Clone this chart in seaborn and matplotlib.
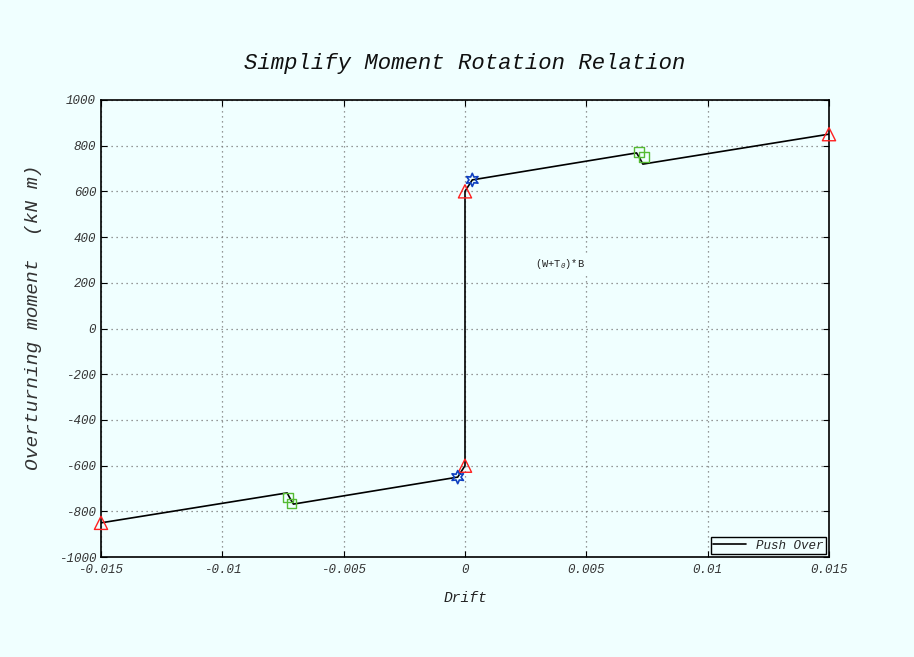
import matplotlib
matplotlib.use("Agg")
import matplotlib.pyplot as plt
import seaborn as sns
import pandas as pd

# ---- data ----
drift = [-0.015, -0.00733, -0.0072, -0.00707, -0.0003, 0.0, 0.0, 0.0003, 0.00707, 0.0072, 0.00733, 0.015]
moment = [-850, -719, -745, -768, -650, -600, 600, 650, 768, 745, 719, 850]

tri_x = [-0.015, 0.0, 0.0, 0.015]
tri_y = [-850, -600, 600, 850]
star_x = [-0.0003, 0.0003]
star_y = [-650, 650]
sq_x = [-0.0073, -0.00714, 0.00717, 0.00738]
sq_y = [-740, -765, 772, 750]

xticks = [-0.015, -0.01, -0.005, 0, 0.005, 0.01, 0.015]
xticklabels = ["-0.015", "-0.01", "-0.005", "0", "0.005", "0.01", "0.015"]
yticks = list(range(-1000, 1001, 200))
yticklabels = [str(v) for v in yticks]

title = "Simplify Moment Rotation Relation"
xlabel = "Drift"
ylabel = "Overturning moment  (kN m)"
legend_label = "Push Over"
annot = "(W+T$_0$)*B"

sns.set_theme(style="ticks")
bg = "#f0ffff"
mono = ["Liberation Mono", "DejaVu Sans Mono"]
plt.rcParams["font.family"] = mono
plt.rcParams["font.style"] = "italic"
plt.rcParams["axes.unicode_minus"] = False
plt.rcParams["mathtext.fontset"] = "custom"
plt.rcParams["mathtext.rm"] = "Liberation Mono"
plt.rcParams["mathtext.it"] = "Liberation Mono"
plt.rcParams["mathtext.bf"] = "Liberation Mono"

fig = plt.figure(figsize=(9.14, 6.57), dpi=100, facecolor=bg)
ax = fig.add_axes([0.1105, 0.152, 0.7965, 0.696])
ax.set_facecolor(bg)

df = pd.DataFrame({"drift": drift, "moment": moment})
sns.lineplot(data=df, x="drift", y="moment", sort=False, estimator=None,
             color="black", linewidth=1.2, label=legend_label, ax=ax, zorder=3)

sns.scatterplot(x=tri_x, y=tri_y, marker="^", s=90, facecolors="none",
                edgecolor="#ff2020", linewidth=1.0, ax=ax, zorder=4, legend=False,
                clip_on=False)
sns.scatterplot(x=sq_x, y=sq_y, marker="s", s=45, facecolors="none",
                edgecolor="#55bb33", linewidth=1.0, ax=ax, zorder=4, legend=False,
                clip_on=False)
sns.scatterplot(x=star_x, y=star_y, marker=(6, 1, 0), s=90, facecolors="none",
                edgecolor="#1040c0", linewidth=1.2, ax=ax, zorder=4, legend=False,
                clip_on=False)

ax.set_xlim(-0.015, 0.015)
ax.set_ylim(-1000, 1000)
ax.set_xticks(xticks)
ax.set_xticklabels(xticklabels, fontstyle="italic")
ax.set_yticks(yticks)
ax.set_yticklabels(yticklabels, fontstyle="italic")

ax.grid(True, linestyle=(0, (1, 3)), color="#777777", linewidth=0.9)
ax.tick_params(direction="in", length=4, width=0.8, top=True, right=True,
               labelsize=9, colors="black", labelcolor="#333333")
ax.tick_params(axis="x", pad=5)
for sp in ax.spines.values():
    sp.set_visible(True)
    sp.set_color("black")
    sp.set_linewidth(1.2)

ax.set_title(title, fontsize=16, fontstyle="italic", pad=22, color="#111111")
ax.set_xlabel(xlabel, fontsize=10.5, fontstyle="italic", labelpad=11, color="#222222")
ax.set_ylabel(ylabel, fontsize=14, fontstyle="italic", color="#333333")
ax.yaxis.set_label_coords(-0.081, 0.525)

ax.text(0.0029, 280, annot, fontsize=7.5, ha="left", va="center", color="#222222",
        fontstyle="normal",
        bbox=dict(facecolor=bg, edgecolor="none", pad=3), zorder=2)

leg = ax.legend(loc="lower right", fontsize=9, frameon=True, fancybox=False,
                framealpha=1, facecolor=bg, edgecolor="black", borderaxespad=0.25,
                handlelength=2.6, borderpad=0.2)
leg.get_frame().set_linewidth(1.0)
for t in leg.get_texts():
    t.set_fontstyle("italic")

fig.savefig("out.png", dpi=100, facecolor=bg)
